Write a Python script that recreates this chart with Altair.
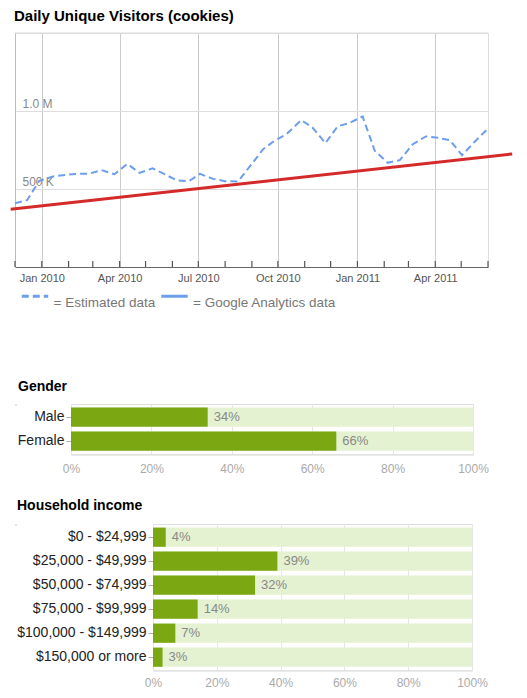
import altair as alt
import pandas as pd

# ---------------- Daily unique visitors ----------------
visit_dates = ["2009-12-01", "2009-12-15", "2009-12-29", "2010-01-14", "2010-01-29",
               "2010-02-11", "2010-02-24", "2010-03-11", "2010-03-26", "2010-04-10",
               "2010-04-24", "2010-05-09", "2010-05-23", "2010-06-06", "2010-06-20",
               "2010-07-03", "2010-07-18", "2010-08-01", "2010-08-16", "2010-08-30",
               "2010-09-14", "2010-09-27", "2010-10-11", "2010-10-28", "2010-11-10",
               "2010-11-25", "2010-12-09", "2010-12-23", "2011-01-07", "2011-01-21",
               "2011-02-05", "2011-02-19", "2011-03-06", "2011-03-21", "2011-04-04",
               "2011-04-18", "2011-05-02", "2011-05-16", "2011-05-31"]
visit_values = [409000, 428000, 552000, 580000, 591000, 597000, 597000, 621000, 595000, 661000,
                603000, 633000, 595000, 556000, 550000, 597000, 565000, 550000, 548000, 648000,
                755000, 809000, 852000, 942000, 894000, 794000, 901000, 924000, 965000, 745000,
                668000, 685000, 787000, 837000, 828000, 813000, 717000, 800000, 882000]
series_names = ["= Estimated data", "= Google Analytics data"]

trend_dates = ["2009-11-26", "2011-06-29"]
trend_values = [370000, 725000]

month_ticks = ["2009-12-01", "2010-01-01", "2010-02-01", "2010-03-01", "2010-04-01",
               "2010-05-01", "2010-06-01", "2010-07-01", "2010-08-01", "2010-09-01",
               "2010-10-01", "2010-11-01", "2010-12-01", "2011-01-01", "2011-02-01",
               "2011-03-01", "2011-04-01", "2011-05-01", "2011-06-01"]
label_months = [(2010, 1), (2010, 4), (2010, 7), (2010, 10), (2011, 1), (2011, 4)]
y_label_values = [500000, 1000000]
y_max = 1500000

# ---------------- Gender / income ----------------
gender_cats = ["Male", "Female"]
gender_vals = [34, 66]
income_cats = ["$0 - $24,999", "$25,000 - $49,999", "$50,000 - $74,999",
               "$75,000 - $99,999", "$100,000 - $149,999", "$150,000 or more"]
income_vals = [4, 39, 32, 14, 7, 3]
pct_ticks = [0, 20, 40, 60, 80, 100]

FONT = "Liberation Sans"
BLUE = "#6d9eeb"
RED = "#d42a2a"
GREEN = "#7ba812"
LIGHT_GREEN = "#e4f2d2"

W, H = 473, 234

visits = pd.DataFrame({"date": visit_dates, "value": visit_values,
                       "series": [series_names[0]] * len(visit_dates)})
trend = pd.DataFrame({"date": trend_dates, "value": trend_values})
ticks = pd.DataFrame({"date": month_ticks})
top_df = pd.DataFrame({"value": [y_max]})

x_scale = alt.Scale(type="utc",
                    domain=[alt.DateTime(year=2009, month=12, date=1, utc=True),
                            alt.DateTime(year=2011, month=6, date=1, utc=True)])
x_axis = alt.Axis(values=[alt.DateTime(year=y, month=m, date=1, utc=True) for y, m in label_months],
                  format="%b %Y", title=None, labelFontSize=11, labelColor="#555",
                  labelFont=FONT, labelFlush=False, ticks=False, tickSize=0, labelPadding=5,
                  grid=True, gridColor="#cccccc", domainColor="#666666", domainWidth=1.2)
y_scale = alt.Scale(domain=[0, y_max], nice=False)
y_axis = alt.Axis(values=y_label_values,
                  labelExpr="datum.value >= 1000000 ? format(datum.value/1000000, '.1f') + ' M' : format(datum.value/1000, 'd') + ' K'",
                  title=None, labelAlign="left", labelBaseline="bottom", labelPadding=-7,
                  labelOffset=-1, ticks=False, tickSize=0, labelFontSize=12, labelColor="#888",
                  labelFont=FONT, grid=True, gridColor="#dddddd", domainColor="#bbbbbb",
                  minExtent=0)

def X(field):
    return alt.X(field, type="temporal", scale=x_scale, axis=x_axis)

def Y(field):
    return alt.Y(field, type="quantitative", scale=y_scale, axis=y_axis)

tick_layer = alt.Chart(ticks).mark_rule(color="#555555", strokeWidth=1.2).encode(
    x=X("date"), y=alt.value(H - 6), y2=alt.value(H))
top_layer = alt.Chart(top_df).mark_rule(color="#dddddd").encode(y=Y("value"))
visit_layer = alt.Chart(visits).mark_line(color=BLUE, strokeWidth=2).encode(
    x=X("date"), y=Y("value"),
    strokeDash=alt.StrokeDash("series:N",
                              scale=alt.Scale(domain=series_names, range=[[7, 4], [1, 0]]),
                              legend=alt.Legend(title=None, orient="none", legendX=5, legendY=248,
                                                direction="horizontal", symbolType="stroke",
                                                symbolStrokeColor=BLUE, symbolStrokeWidth=3,
                                                symbolSize=700, labelFontSize=13.5, labelColor="#777",
                                                labelFont=FONT, labelOffset=3.5, columnPadding=-1.5,
                                                labelBaseline="top", padding=0)))
trend_layer = alt.Chart(trend).mark_line(color=RED, strokeWidth=3, clip=False,
                                         strokeJoin="round").encode(
    x=X("date"), y=Y("value"))

line_chart = alt.layer(tick_layer, top_layer, visit_layer, trend_layer).properties(
    width=W, height=H,
    title=alt.TitleParams("Daily Unique Visitors (cookies)", anchor="start", frame="group",
                          dx=-1, fontSize=15, fontWeight="bold", color="#000", font=FONT, offset=9))


def spacer(w):
    return alt.Chart(pd.DataFrame({"v": [0]})).mark_rule(opacity=0).encode(
        x=alt.value(0), y=alt.value(0), y2=alt.value(1)).properties(width=w, height=1)


def bar_panel(cats, vals, title, width, title_dx, title_offset, label_pad):
    df = pd.DataFrame({"cat": cats, "val": vals, "full": [100] * len(cats),
                       "label": [f"{v}%" for v in vals]})
    yenc = alt.Y("cat:N", sort=cats, title=None,
                 scale=alt.Scale(paddingInner=0.2, paddingOuter=0.15),
                 axis=alt.Axis(labelFontSize=14, labelColor="#222", labelFont=FONT,
                               tickColor="#aaaaaa", tickSize=5, labelPadding=2,
                               domain=False, grid=False))
    xscale = alt.Scale(domain=[0, 100], nice=False)
    xaxis = alt.Axis(values=pct_ticks, labelExpr="datum.value + '%'", labelFontSize=12,
                     labelColor="#aaaaaa", labelFont=FONT, labelFlush=False, grid=True,
                     gridColor="#e6e6e6", domainColor="#dddddd", ticks=False, tickSize=0,
                     labelPadding=label_pad, title=None)
    bg = alt.Chart(df).mark_bar(color=LIGHT_GREEN).encode(
        y=yenc, x=alt.X("full:Q", scale=xscale, axis=xaxis))
    fg = alt.Chart(df).mark_bar(color=GREEN).encode(
        y=yenc, x=alt.X("val:Q", scale=xscale, axis=xaxis))
    tx = alt.Chart(df).mark_text(align="left", baseline="middle", dx=6, fontSize=13,
                                 color="#888888", font=FONT).encode(
        y=yenc, x=alt.X("val:Q", scale=xscale, axis=xaxis), text="label:N")
    panel = alt.layer(bg, fg, tx).properties(
        width=width, height=24 * (len(cats) + 0.1),
        title=alt.TitleParams(title, anchor="start", frame="group", dx=title_dx, fontSize=14,
                              fontWeight="bold", color="#000", font=FONT, offset=title_offset))
    return alt.hconcat(spacer(1), panel, spacing=-1)


gender_row = bar_panel(gender_cats, gender_vals, "Gender", 402, -53, 10, 9)
income_row = bar_panel(income_cats, income_vals, "Household income", 319, -136, 11, 7)

PAD = {"left": 0, "top": 0, "right": 0, "bottom": 0}
lower = alt.vconcat(gender_row, income_row, spacing=23)
chart = alt.vconcat(line_chart, lower, spacing=95).properties(
    padding=PAD
).configure_view(stroke=None).configure(font=FONT)

chart.save("out.html", embed_options={"renderer": "svg", "actions": False})
